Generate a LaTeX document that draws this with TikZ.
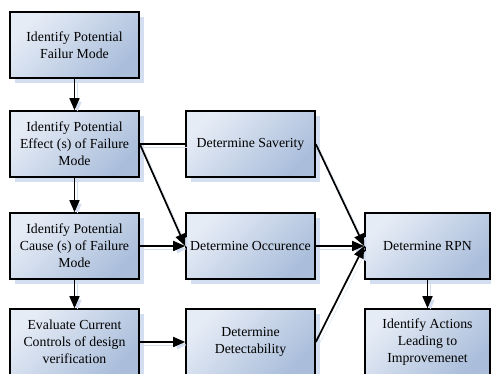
\documentclass[tikz,border=0pt]{standalone}
\usepackage{fontspec}
\setmainfont{Liberation Serif}
\usetikzlibrary{arrows.meta,shadows}
\definecolor{boxlight}{HTML}{E6ECF6}
\definecolor{boxdark}{HTML}{AABEDB}
\definecolor{shadowc}{HTML}{D3DEF0}
\tikzset{
  box/.style={draw=black, line width=1.6pt, minimum width=129pt, minimum height=66pt,
    inner sep=0pt, align=center, font=\fontsize{13.8}{17}\selectfont,
    top color=boxlight, bottom color=boxdark, shading angle=45,
    general shadow={shadow xshift=5pt, shadow yshift=-5pt, fill=shadowc}},
  conn/.style={line width=1.7pt, draw=black,
    preaction={draw=shadowc, transform canvas={shift={(3pt,-3pt)}}}},
  arr/.style={conn, -{Triangle[length=12pt,width=10pt]}}
}
\begin{document}
\begin{tikzpicture}[x=1pt,y=1pt]
\useasboundingbox (0,0) rectangle (491,-374);
\clip (0,0) rectangle (491,-374);
\node[box] (f1) at (74.5,-45) {Identify Potential\\Failur Mode};
\node[box] (f2) at (74.5,-144) {Identify Potential\\Effect (s) of Failure\\Mode};
\node[box] (f3) at (74.5,-246) {Identify Potential\\Cause (s) of Failure\\Mode};
\node[box] (f4) at (74.5,-342) {Evaluate Current\\Controls of design\\verification};
\node[box] (sev) at (250.5,-144) {Determine Saverity};
\node[box] (occ) at (250.5,-246) {Determine Occurence};
\node[box] (det) at (250.5,-342) {Determine\\Detectability};
\node[box, minimum width=125pt] (rpn) at (427.5,-246) {Determine RPN};
\node[box, minimum width=125pt] (act) at (427.5,-342) {Identify Actions\\Leading to\\Improvemenet};
\draw[arr] (f1) -- (f2);
\draw[arr] (f2) -- (f3);
\draw[arr] (f3) -- (f4);
\draw[conn] (f2.east) -- (sev.west);
\draw[arr] (f2.east) -- (occ.west);
\draw[arr] (f3.east) -- (occ.west);
\draw[arr] (f4.east) -- (det.west);
\draw[arr] (sev.east) -- (rpn.west);
\draw[arr] (occ.east) -- (rpn.west);
\draw[arr] (det.east) -- (rpn.west);
\draw[arr] (rpn) -- (act);
\end{tikzpicture}
\end{document}
